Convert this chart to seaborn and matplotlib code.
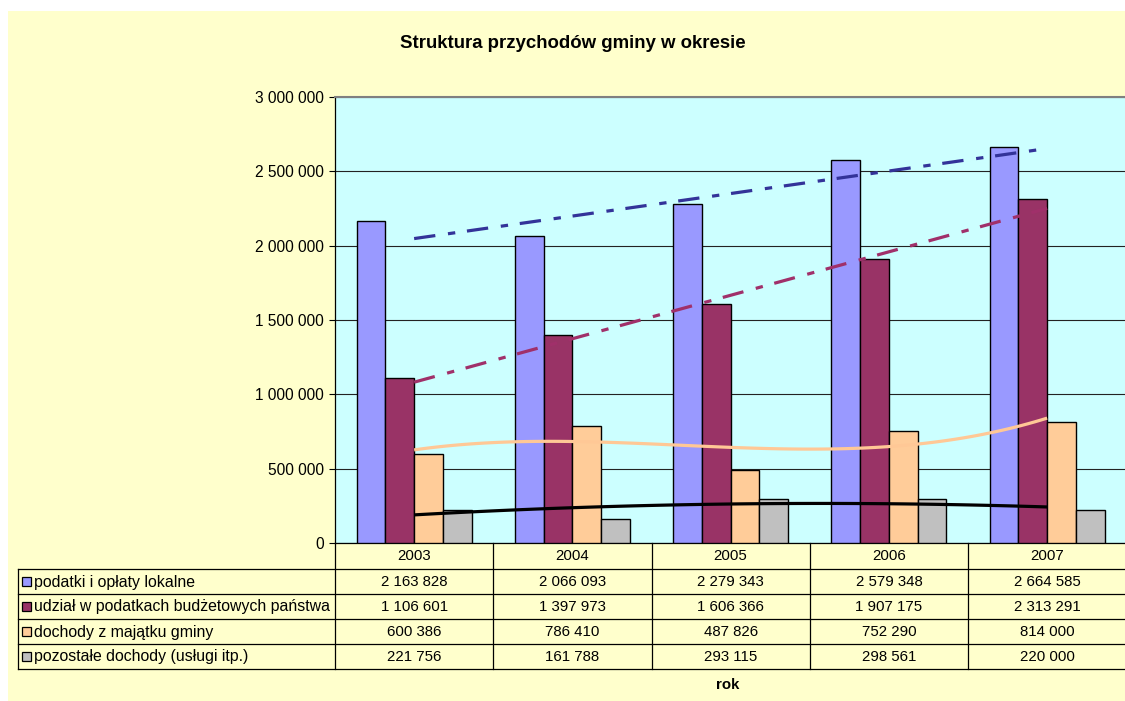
import numpy as np
import pandas as pd
import matplotlib
matplotlib.use("Agg")
import matplotlib.pyplot as plt
import seaborn as sns
from matplotlib.patches import Rectangle
from matplotlib.lines import Line2D

# ---------------- data ----------------
years = ["2003", "2004", "2005", "2006", "2007"]
series_names = [
    "podatki i opłaty lokalne",
    "udział w podatkach budżetowych państwa",
    "dochody z majątku gminy",
    "pozostałe dochody (usługi itp.)",
]
podatki = [2163828, 2066093, 2279343, 2579348, 2664585]
udzial = [1106601, 1397973, 1606366, 1907175, 2313291]
majatek = [600386, 786410, 487826, 752290, 814000]
pozostale = [221756, 161788, 293115, 298561, 220000]
y_ticks = [0, 500000, 1000000, 1500000, 2000000, 2500000, 3000000]
title_text = "Struktura przychodów gminy w okresie"
xlabel_text = "rok"

bar_colors = ["#9999FF", "#993366", "#FFCC99", "#C0C0C0"]
trend_colors = ["#333399", "#A0306A", "#FFC896", "#000000"]
trend_orders = [1, 1, 3, 2]

series_values = [podatki, udzial, majatek, pozostale]

df = pd.DataFrame(
    [(y, s, v) for s, vals in zip(series_names, series_values) for y, v in zip(years, vals)],
    columns=["year", "series", "value"],
)

# ---------------- figure ----------------
plt.rcParams["font.family"] = ["Liberation Sans", "DejaVu Sans"]
W, H = 1125, 701
fig = plt.figure(figsize=(W / 100, H / 100), dpi=100, facecolor="white")

# chart area background
fig.patches.append(Rectangle((8 / W, 0), (W - 8) / W, (H - 11) / H,
                             transform=fig.transFigure, facecolor="#FFFFCC",
                             edgecolor="none", zorder=-10))

left, right, top, bottom = 335, 1126.25, 97, 543
ax = fig.add_axes([left / W, 1 - bottom / H, (right - left) / W, (bottom - top) / H], zorder=1)
ax.set_facecolor("#CCFFFF")

sns.barplot(data=df, x="year", y="value", hue="series", hue_order=series_names,
            order=years, palette=bar_colors, width=4 / 5.5, edgecolor="black",
            linewidth=1.0, saturation=1, errorbar=None, legend=False, ax=ax, zorder=3)

xpos = np.arange(len(years))
dashdot = (0, (6.7, 4, 2.3, 3.7))
for vals, col, order, ls in zip(series_values, trend_colors, trend_orders,
                                [dashdot, dashdot, "-", "-"]):
    sns.regplot(x=xpos, y=np.array(vals, dtype=float), order=order, ci=None,
                scatter=False, truncate=True, ax=ax,
                line_kws=dict(color=col, lw=2.3, linestyle=ls, zorder=5,
                              dash_capstyle="butt", solid_capstyle="butt"))

ax.set_xlim(-0.5, len(years) - 0.5)
ax.set_ylim(0, 3000000)
ax.set_yticks(y_ticks)
ax.set_yticklabels([f"{v:,}".replace(",", " ") for v in y_ticks])
ax.set_xlabel("")
ax.set_ylabel("")
ax.tick_params(axis="x", length=0, labelbottom=False)
ax.tick_params(axis="y", direction="out", length=4, width=0.8, color="black",
               labelsize=11.2, labelcolor="black", pad=4)
ax.set_axisbelow(True)
ax.yaxis.grid(True, color="#222222", lw=0.8)
ax.xaxis.grid(False)
ax.spines["right"].set_visible(False)
ax.spines["top"].set_color("#808080")
ax.spines["top"].set_linewidth(1.5)
ax.spines["left"].set_color("black")
ax.spines["left"].set_linewidth(0.9)
ax.spines["bottom"].set_color("black")
ax.spines["bottom"].set_linewidth(0.9)

# ---------------- data table ----------------
tab = fig.add_axes([0, 0, 1, 1], zorder=10)
tab.set_xlim(0, W)
tab.set_ylim(H, 0)
tab.axis("off")
tab.patch.set_alpha(0)

def px_x(xd):
    return ax.transData.transform((xd, 0))[0]

bounds = [px_x(b) for b in np.arange(-0.5, len(years), 1.0)]
centers = [px_x(c) for c in xpos]
y0 = H - ax.transData.transform((0, 0))[1]
row_h = 25
hdr_bottom = y0 + 26
row_lines = [hdr_bottom + i * row_h for i in range(len(series_names) + 1)]
tab_left = 18
lw_t = 0.9
for yl in row_lines:
    tab.add_line(Line2D([tab_left, bounds[-1]], [yl, yl], color="black", lw=lw_t))
tab.add_line(Line2D([tab_left, tab_left], [row_lines[0], row_lines[-1]], color="black", lw=lw_t))
for bx in bounds:
    tab.add_line(Line2D([bx, bx], [y0, row_lines[-1]], color="black", lw=lw_t))

fs = 10.8
for c, yr in zip(centers, years):
    tab.text(c, (y0 + hdr_bottom) / 2 + 0.5, yr, ha="center", va="center", fontsize=fs)

for i, (name, vals, col) in enumerate(zip(series_names, series_values, bar_colors)):
    yc = (row_lines[i] + row_lines[i + 1]) / 2 + 0.5
    tab.add_patch(Rectangle((22, yc - 5), 9, 9, facecolor=col, edgecolor="black", lw=0.9))
    tab.text(34, yc, name, ha="left", va="center", fontsize=11.4)
    for c, v in zip(centers, vals):
        tab.text(c, yc, f"{v:,}".replace(",", " "), ha="center", va="center", fontsize=fs)

fig.text(573 / W, 1 - 43 / H, title_text, ha="center", va="center",
         fontsize=13.4, fontweight="bold")
fig.text(728 / W, 1 - 685 / H, xlabel_text, ha="center", va="center",
         fontsize=fs, fontweight="bold")

fig.savefig("out.png", dpi=100, facecolor="white")
